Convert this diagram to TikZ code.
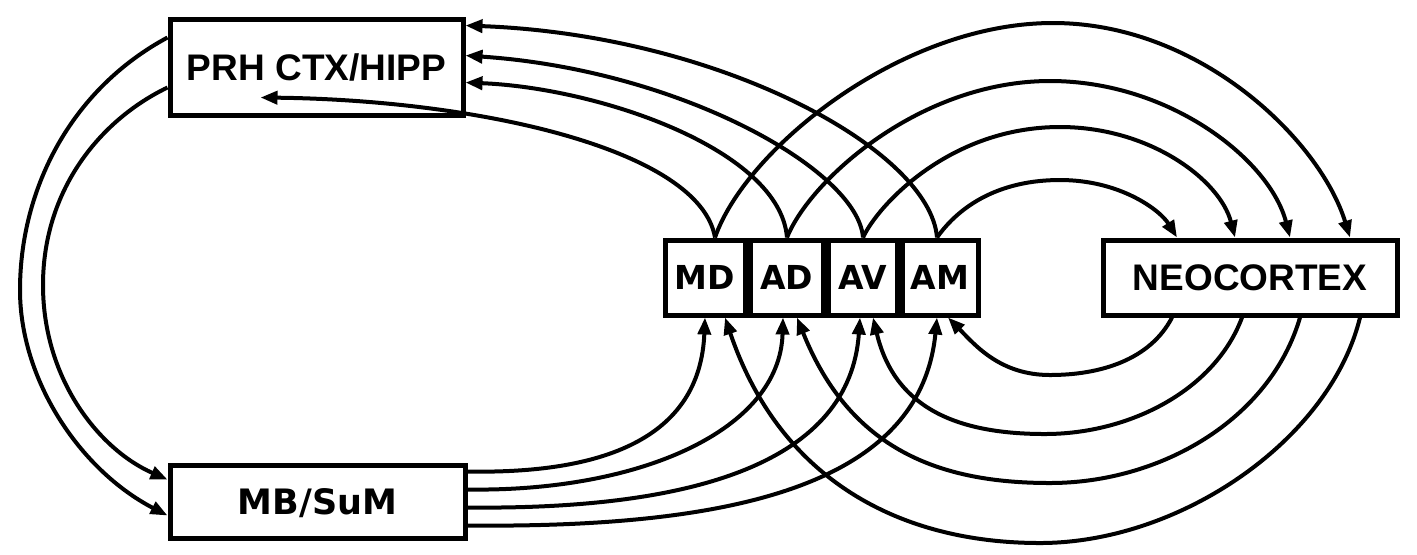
\documentclass[tikz,border=0pt]{standalone}
\usepackage{fontspec}
\setmainfont{Liberation Sans}
\newfontfamily\dejavu{DejaVu Sans}
\usetikzlibrary{arrows.meta,calc}
\begin{document}
\begin{tikzpicture}[x=0.5pt,y=-0.5pt,
  box/.style={draw,line width=2.5pt,inner sep=0pt,minimum height=37.5pt,text depth=0pt},
  con/.style={line width=2pt},
  arr/.style={con,-{Triangle[length=8.5pt,width=6.5pt]}},
  bigfont/.style={font=\fontsize{18.5}{20}\selectfont\bfseries},
  mbfont/.style={font=\dejavu\fontsize{17.5}{20}\selectfont\bfseries},
  thfont/.style={font=\dejavu\fontsize{16.5}{20}\selectfont\bfseries},
]
\useasboundingbox (0,0) rectangle (1417,554);

% nodes
\node[box,bigfont,minimum width=146.5pt,minimum height=48pt] (prh) at (316.5,67) {PRH CTX/HIPP};
\node[box,mbfont,minimum width=147.5pt,minimum height=36.5pt] (mb) at (317.5,501.5) {MB/SuM};
\node[box,thfont,minimum width=40pt] (md) at (705,277.5) {MD};
\node[box,thfont,minimum width=36.5pt] (ad) at (786.5,277.5) {AD};
\node[box,thfont,minimum width=34.5pt] (av) at (862.5,277.5) {AV};
\node[box,thfont,minimum width=38pt] (am) at (940,277.5) {AM};
\node[box,bigfont,minimum width=147pt] (neo) at (1250,277.5) {NEOCORTEX};

% PRH -> MB/SuM
\draw[arr] ($(prh.north west)+(0,21)$) .. controls (70,90) and (20,190) .. (20,290)
  .. controls (20,380) and (80,470) .. ($(mb.north west)+(0,53)$);
\draw[arr] ($(prh.north west)+(0,71)$) .. controls (100,120) and (43,190) .. (43,285)
  .. controls (43,380) and (100,450) .. ($(mb.north west)+(0,17)$);

% thalamus -> PRH
\draw[arr] ($(md.north)+(10,0)$) .. controls (700,150) and (480,100) .. ($(prh.south west)+(93,-20)$);
\draw[arr] ($(ad.north)+(0.5,0)$) .. controls (780,150) and (600,88) .. ($(prh.north east)+(0,66)$);
\draw[arr] ($(av.north)+(0.5,0)$) .. controls (858,170) and (680,70) .. ($(prh.north east)+(0,39)$);
\draw[arr] ($(am.north)+(-3,0)$) .. controls (930,150) and (720,35) .. ($(prh.north east)+(0,9)$);

% thalamus -> NEOCORTEX
\draw[arr] ($(md.north)+(10,0)$) .. controls (745,150) and (900,23) .. (1053,23)
  .. controls (1200,23) and (1320,140) .. ($(neo.north)+(100,0)$);
\draw[arr] ($(ad.north)+(0.5,0)$) .. controls (810,180) and (920,81) .. (1050,81)
  .. controls (1170,81) and (1270,160) .. ($(neo.north)+(40,0)$);
\draw[arr] ($(av.north)+(0.5,0)$) .. controls (878,205) and (950,127) .. (1060,127)
  .. controls (1150,127) and (1220,180) .. ($(neo.north)+(-15,0)$);
\draw[arr] ($(am.north)+(-3,0)$) .. controls (960,205) and (1000,180) .. (1060,180)
  .. controls (1120,180) and (1160,210) .. ($(neo.north)+(-73,0)$);

% NEOCORTEX -> thalamus
\draw[arr] ($(neo.south)+(-78,0)$) .. controls (1150,360) and (1100,375) .. (1050,375)
  .. controls (1000,375) and (975,345) .. ($(am.south)+(8,0)$);
\draw[arr] ($(neo.south)+(-8,0)$) .. controls (1215,390) and (1130,434) .. (1045,434)
  .. controls (960,434) and (895,410) .. ($(av.south)+(10.5,0)$);
\draw[arr] ($(neo.south)+(50,0)$) .. controls (1270,420) and (1160,483) .. (1050,483)
  .. controls (940,483) and (850,450) .. ($(ad.south)+(10.5,0)$);
\draw[arr] ($(neo.south)+(110,0)$) .. controls (1330,440) and (1180,543) .. (1040,543)
  .. controls (900,543) and (780,480) .. ($(md.south)+(20,0)$);

% MB/SuM -> thalamus
\draw[arr] ($(mb.north east)+(0,9)$) .. controls (600,474) and (700,440) .. (md.south);
\draw[arr] ($(mb.north east)+(0,27)$) .. controls (640,492) and (780,430) .. ($(ad.south)+(-3.5,0)$);
\draw[arr] ($(mb.north east)+(0,45)$) .. controls (700,510) and (850,460) .. ($(av.south)+(-2.5,0)$);
\draw[arr] ($(mb.north east)+(0,63)$) .. controls (720,528) and (920,490) .. ($(am.south)+(-3,0)$);
\end{tikzpicture}
\end{document}
